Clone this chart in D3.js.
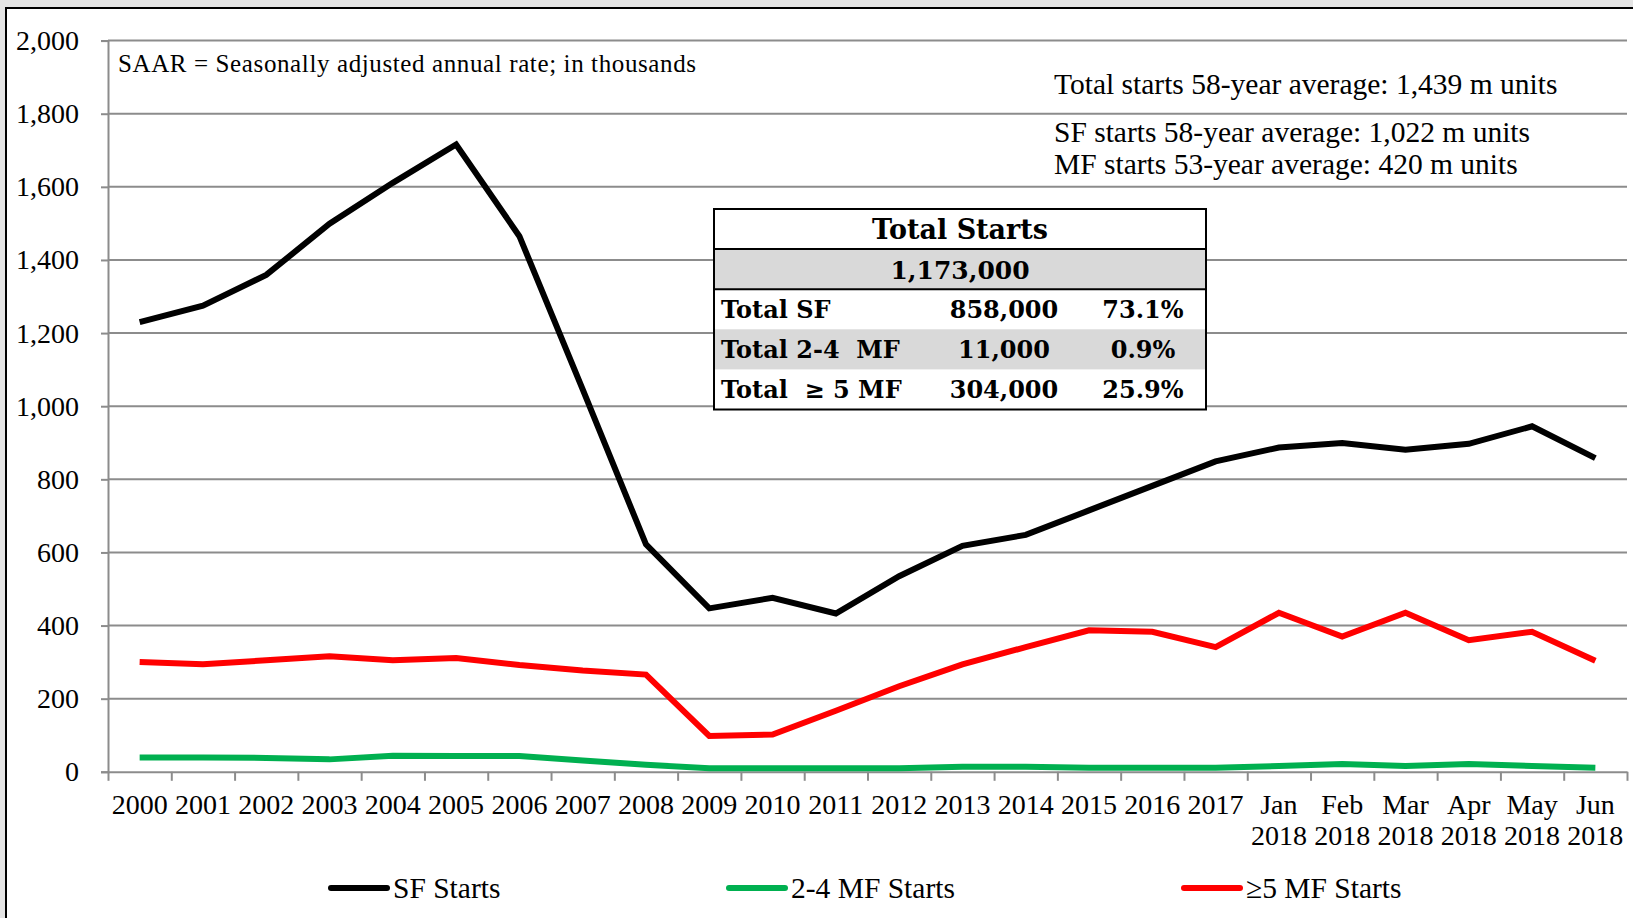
<!DOCTYPE html>
<html>
  <head>
    <meta charset="utf-8">
    <title>Housing Starts</title>
    <script src="https://d3js.org/d3.v7.min.js"></script>
    <style>
      body { margin: 0; background: #e4e4e4; }
      text { font-family: "Liberation Serif", "Times New Roman", serif; fill: #000; }
    </style>
  </head>
  <body>
    <script>
      var categories = ["2000", "2001", "2002", "2003", "2004", "2005", "2006", "2007", "2008",
        "2009", "2010", "2011", "2012", "2013", "2014", "2015", "2016", "2017",
        "Jan 2018", "Feb 2018", "Mar 2018", "Apr 2018", "May 2018", "Jun 2018"];

      var sfStarts = [1230, 1275, 1359, 1499, 1611, 1716, 1465, 1046, 622, 447, 476, 433,
        535, 618, 648, 715, 782, 849, 887, 899, 881, 897, 945, 858];
      var mf24Starts = [39, 39, 38, 34, 44, 43, 43, 31, 19, 10, 10, 10,
        10, 14, 14, 11, 11, 11, 16, 21, 16, 21, 16, 11];
      var mf5Starts = [300, 294, 305, 316, 305, 311, 292, 277, 266, 98, 102, 167,
        234, 294, 341, 387, 383, 341, 435, 370, 435, 360, 383, 304];

      var yTicks = [0, 200, 400, 600, 800, 1000, 1200, 1400, 1600, 1800, 2000];

      var series = [
        { name: "SF Starts", values: sfStarts, color: "#000000" },
        { name: "2-4 MF Starts", values: mf24Starts, color: "#00b050" },
        { name: "\u22655 MF Starts", values: mf5Starts, color: "#ff0000" }
      ];

      var tableRows = [
        ["Total SF", "858,000", "73.1%"],
        ["Total 2-4  MF", "11,000", "0.9%"],
        ["Total  \u2265 5 MF", "304,000", "25.9%"]
      ];

      var width = 1633;
      var height = 918;
      var plotLeft = 108, plotRight = 1627, plotTop = 40.6, plotBottom = 771.8;

      var svg = d3.select("body").append("svg").attr("width", width).attr("height", height);

      // background and frame
      svg.append("rect").attr("width", width).attr("height", height).attr("fill", "#e4e4e4");
      svg.append("rect").attr("x", 6).attr("y", 8).attr("width", width + 10).attr("height", height)
        .attr("fill", "#fff").attr("stroke", "#000").attr("stroke-width", 2);

      var x = d3.scaleBand().domain(categories).range([plotLeft, plotRight]).paddingInner(0).paddingOuter(0);
      var xi = d3.scaleLinear().domain([0, categories.length]).range([plotLeft, plotRight]);
      var y = d3.scaleLinear().domain([0, 2000]).range([plotBottom, plotTop]);

      // gridlines
      svg.append("g").selectAll("line")
        .data(yTicks.filter(function(d) { return d > 0; }))
        .enter().append("line")
        .attr("x1", plotLeft).attr("x2", plotRight)
        .attr("y1", function(d) { return y(d); }).attr("y2", function(d) { return y(d); })
        .attr("stroke", "#8c8c8c").attr("stroke-width", 2);

      // y axis
      var yAxis = svg.append("g").attr("transform", "translate(" + plotLeft + ",0)")
        .call(d3.axisLeft(y).tickValues(yTicks).tickFormat(d3.format(",")).tickSize(7).tickPadding(22));
      yAxis.select(".domain").attr("stroke", "#8c8c8c").attr("stroke-width", 2);
      yAxis.selectAll(".tick line").attr("stroke", "#8c8c8c").attr("stroke-width", 2);
      yAxis.selectAll(".tick text").style("font-family", "Liberation Serif").style("font-size", "28px");

      // x axis (ticks at category boundaries)
      var xAxis = svg.append("g").attr("transform", "translate(0," + plotBottom + ")")
        .call(d3.axisBottom(xi).ticks(categories.length).tickFormat("").tickSizeInner(9).tickSizeOuter(0));
      xAxis.select(".domain").attr("stroke", "#8c8c8c").attr("stroke-width", 2);
      xAxis.selectAll(".tick line").attr("stroke", "#8c8c8c").attr("stroke-width", 2);

      var xLabels = svg.append("g").selectAll("text").data(categories).enter().append("text")
        .attr("text-anchor", "middle")
        .style("font-size", "28px");
      xLabels.each(function(d) {
        var parts = d.split(" ");
        var t = d3.select(this);
        parts.forEach(function(p, i) {
          t.append("tspan")
            .attr("x", x(d) + x.bandwidth() / 2)
            .attr("y", 814 + i * 31)
            .text(p);
        });
      });

      // lines
      var line = d3.line()
        .x(function(d, i) { return x(categories[i]) + x.bandwidth() / 2; })
        .y(function(d) { return y(d); });

      var drawOrder = [series[1], series[2], series[0]];
      svg.append("g").selectAll("path").data(drawOrder).enter().append("path")
        .attr("d", function(s) { return line(s.values); })
        .attr("fill", "none")
        .attr("stroke", function(s) { return s.color; })
        .attr("stroke-width", 6);

      // annotations
      svg.append("text").attr("x", 118).attr("y", 72).style("font-size", "25px")
        .attr("textLength", 578).attr("lengthAdjust", "spacing")
        .text("SAAR = Seasonally adjusted annual rate; in thousands");
      svg.append("text").attr("x", 1054).attr("y", 94).style("font-size", "29.5px")
        .text("Total starts 58-year average: 1,439 m units");
      svg.append("text").attr("x", 1054).attr("y", 142).style("font-size", "29.5px")
        .text("SF starts 58-year average: 1,022 m units");
      svg.append("text").attr("x", 1054).attr("y", 174).style("font-size", "29.5px")
        .text("MF starts 53-year average: 420 m units");

      // table
      var tx0 = 714, tx1 = 1206, ty0 = 209, rowH = 40.1;
      var tbl = svg.append("g");
      tbl.append("rect").attr("x", tx0).attr("y", ty0).attr("width", tx1 - tx0).attr("height", rowH * 5)
        .attr("fill", "#fff");
      tbl.append("rect").attr("x", tx0).attr("y", ty0 + rowH).attr("width", tx1 - tx0).attr("height", rowH)
        .attr("fill", "#d9d9d9");
      tbl.append("rect").attr("x", tx0).attr("y", ty0 + rowH * 3).attr("width", tx1 - tx0).attr("height", rowH)
        .attr("fill", "#d9d9d9");
      tbl.append("rect").attr("x", tx0).attr("y", ty0).attr("width", tx1 - tx0).attr("height", rowH * 5)
        .attr("fill", "none").attr("stroke", "#000").attr("stroke-width", 2);
      [1, 2].forEach(function(r) {
        tbl.append("line").attr("x1", tx0).attr("x2", tx1)
          .attr("y1", ty0 + rowH * r).attr("y2", ty0 + rowH * r)
          .attr("stroke", "#000").attr("stroke-width", 2);
      });
      tbl.append("text").attr("x", (tx0 + tx1) / 2).attr("y", ty0 + rowH * 0.5 + 10)
        .attr("text-anchor", "middle").style("font-family", "DejaVu Serif").style("font-weight", "bold")
        .style("font-size", "27px").text("Total Starts");
      tbl.append("text").attr("x", (tx0 + tx1) / 2).attr("y", ty0 + rowH * 1.5 + 10)
        .attr("text-anchor", "middle").style("font-family", "DejaVu Serif").style("font-weight", "bold")
        .style("font-size", "25px").text("1,173,000");
      tableRows.forEach(function(row, i) {
        var cy = ty0 + rowH * (2.5 + i) + 9;
        tbl.append("text").attr("x", tx0 + 7).attr("y", cy)
          .style("font-family", "DejaVu Serif").style("font-weight", "bold").style("font-size", "24px")
          .style("white-space", "pre").text(row[0]);
        tbl.append("text").attr("x", 1004).attr("y", cy).attr("text-anchor", "middle")
          .style("font-family", "DejaVu Serif").style("font-weight", "bold").style("font-size", "24px").text(row[1]);
        tbl.append("text").attr("x", 1143).attr("y", cy).attr("text-anchor", "middle")
          .style("font-family", "DejaVu Serif").style("font-weight", "bold").style("font-size", "24px").text(row[2]);
      });

      // legend
      var legendPos = [331, 729, 1184];
      var leg = svg.append("g").selectAll("g").data(series).enter().append("g")
        .attr("transform", function(s, i) { return "translate(" + legendPos[i] + ",888)"; });
      leg.append("line").attr("x1", 0).attr("x2", 56).attr("y1", 0).attr("y2", 0)
        .attr("stroke", function(s) { return s.color; }).attr("stroke-width", 6).attr("stroke-linecap", "round");
      leg.append("text").attr("x", 62).attr("y", 10).style("font-size", "29.5px")
        .text(function(s) { return s.name; });
    </script>
  </body>
</html>
